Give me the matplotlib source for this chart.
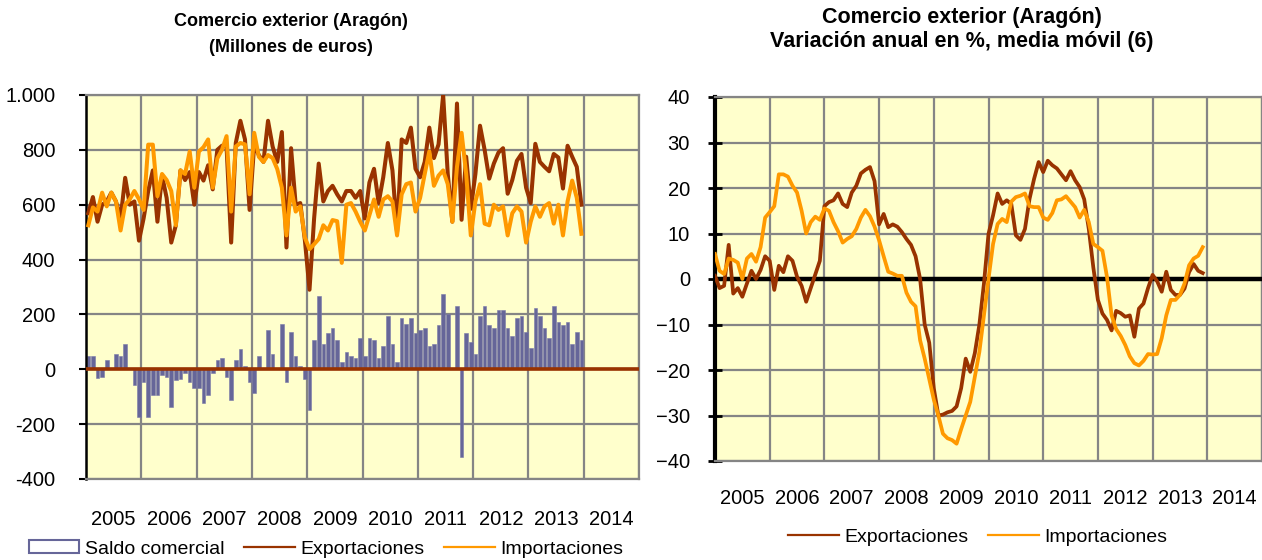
import matplotlib
matplotlib.use("Agg")
import matplotlib.pyplot as plt
from matplotlib.patches import Patch
from matplotlib.lines import Line2D
import numpy as np

plt.rcParams['font.family'] = ['Liberation Sans', 'DejaVu Sans']

years = [str(y) for y in range(2005, 2015)]

# Millones de euros, mensual ene 2005 - dic 2013
exportaciones = [569, 628, 538, 600, 612, 644, 612, 550, 698, 600, 612, 469,
                 550, 650, 725, 538, 706, 625, 462, 525, 725, 690, 719, 600,
                 719, 688, 744, 656, 800, 815, 812, 462, 825, 906, 838, 581,
                 819, 781, 756, 906, 812, 756, 865, 444, 806, 600, 606, 470,
                 290, 550, 750, 612, 650, 669, 638, 612, 650, 650, 625, 650,
                 550, 681, 731, 606, 700, 825, 725, 500, 838, 825, 881, 731,
                 700, 756, 881, 770, 820, 1000, 712, 538, 969, 545, 775, 585,
                 712, 888, 800, 695, 750, 790, 806, 640, 690, 760, 785, 662,
                 606, 822, 756, 738, 722, 785, 772, 659, 815, 775, 738, 600]

importaciones = [525, 590, 575, 644, 594, 644, 612, 506, 600, 620, 650, 620,
                 581, 819, 819, 631, 712, 690, 650, 525, 725, 712, 794, 662,
                 794, 810, 838, 662, 769, 800, 850, 575, 812, 825, 820, 638,
                 862, 775, 756, 781, 770, 730, 662, 488, 662, 575, 594, 480,
                 438, 456, 475, 525, 506, 544, 540, 388, 600, 606, 575, 538,
                 506, 562, 619, 556, 619, 631, 612, 488, 638, 675, 681, 575,
                 625, 712, 794, 669, 706, 725, 675, 538, 738, 862, 712, 488,
                 612, 675, 531, 525, 600, 581, 594, 488, 569, 594, 575, 462,
                 538, 594, 556, 594, 606, 531, 600, 488, 612, 688, 625, 494]

saldo = [48, 48, -33, -28, 34, 3, 57, 48, 93, 2, -57, -173,
         -48, -173, -93, -93, -21, -27, -137, -40, -34, -12, -48, -70,
         -70, -123, -93, -12, 34, 42, -27, -113, 34, 73, 12, -48,
         -85, 48, 5, 143, 57, 3, 166, -48, 137, 48, 12, -34,
         -149, 107, 267, 93, 131, 152, 107, 28, 64, 48, 40, 115,
         48, 115, 108, 42, 85, 195, 93, 28, 188, 166, 188, 131,
         143, 152, 85, 93, 160, 275, 202, 5, 231, -319, 131, 100,
         57, 195, 231, 160, 152, 217, 217, 152, 122, 188, 195, 137,
         79, 224, 195, 152, 115, 231, 173, 160, 173, 93, 137, 108]

# variacion anual en %, media movil (6)
var_export = [0.7, -2, -1.5, 7.5, -3.2, -2, -3.9, -1, 1.8, 0, 2, 5,
              4, -2.4, 2.9, 1.5, 5, 4, 0.5, -1.5, -5, -2, 1, 4,
              16, 16.9, 17.3, 18.8, 16.5, 15.8, 19, 20.5, 23.2, 24, 24.6, 21.5,
              12, 14.3, 11.4, 12, 11.5, 10.3, 8.8, 7.5, 5, 0, -10, -14,
              -24, -30, -29.8, -29.3, -29, -28, -24, -17.5, -20.4, -16.3, -10, -1,
              9.9, 14, 18.8, 16.5, 17.3, 16.5, 9.6, 8.6, 11, 17.6, 22, 25.7,
              23.5, 26, 25, 24.3, 23, 21.7, 23.7, 21.7, 20.2, 17.5, 11, 2.5,
              -4.6, -7.6, -9, -11.3, -7, -7.5, -8.3, -8, -12.7, -6.5, -5.4, -2,
              0.9, -0.5, -2.8, 1.6, -2.4, -3.5, -3.5, -2.1, 1.5, 3.3, 1.8, 1.3]

var_import = [5.5, 1.8, 1.1, 4.5, 4.2, 3.6, 0, 4.5, 5.5, 3.8, 7, 13.5,
              14.7, 16, 23, 23, 22.5, 20.5, 19, 15, 10, 12.5, 13.7, 13,
              15.5, 15, 12.5, 10.5, 8, 8.8, 9.4, 11, 13.5, 15.2, 13.8, 11.5,
              8.5, 5, 1.6, 1.2, 0.7, 0.7, -3, -5, -6, -13.5, -17.5, -22,
              -26.5, -30, -34, -35, -35.4, -36.2, -33, -30, -27, -21.5, -16, -8,
              0, 7.7, 12.1, 13.2, 12.5, 17, 18, 18.3, 18.8, 16, 15.8, 15.8,
              13.5, 13, 14.5, 17.3, 17.5, 18.2, 17, 15.8, 13.5, 15.2, 12.5, 7.7,
              7, 6.2, 0.4, -8, -11, -12.5, -14.5, -17, -18.5, -19, -18, -16.5,
              -16.6, -16.5, -13, -8, -4.6, -4.6, -3.5, -1, 3, 4.5, 5.1, 7]

brown = '#993300'
orange = '#FF9900'
bar_col = '#666699'
bg = '#FFFFCC'
grid_col = '#858585'

W, H = 1262, 560
fig = plt.figure(figsize=(W / 100, H / 100), dpi=100)


def style_axes(ax):
    ax.set_facecolor(bg)
    ax.set_xlim(0, 120)
    ax.set_xticks(np.arange(6, 120, 12))
    ax.set_xticklabels(years)
    ax.set_xticks(np.arange(0, 121, 12), minor=True)
    ax.tick_params(axis='x', which='both', length=0, labelsize=14.5)
    ax.grid(which='minor', axis='x', color=grid_col, lw=1.6, zorder=0)
    ax.grid(which='major', axis='y', color=grid_col, lw=1.6, zorder=0)
    ax.grid(which='major', axis='x', visible=False)
    ax.set_axisbelow(True)
    for s in ['top', 'right', 'bottom']:
        ax.spines[s].set_color(grid_col)
        ax.spines[s].set_linewidth(1.6)
    ax.spines['left'].set_color('black')


# ---- left chart
ax1 = fig.add_axes([86 / W, 1 - 479 / H, 553 / W, 384 / H])
style_axes(ax1)
xm = np.arange(len(saldo)) + 0.5
ax1.bar(xm, saldo, width=0.78, color=bar_col, edgecolor='#7a7aa8', linewidth=0.4, zorder=2)
ax1.axhline(0, color=brown, lw=2.6, zorder=3)
ax1.plot(xm, exportaciones, color=brown, lw=2.9, zorder=4)
ax1.plot(xm, importaciones, color=orange, lw=2.9, zorder=5)
ax1.set_ylim(-400, 1000)
yt = list(range(-400, 1001, 200))
ax1.set_yticks(yt)
ax1.set_yticklabels([('{:,}'.format(v)).replace(',', '.') for v in yt])
ax1.spines['left'].set_linewidth(1.8)
ax1.tick_params(axis='y', direction='out', length=5, width=1.5, labelsize=14.5, pad=17)
ax1.tick_params(axis='x', pad=22)

fig.text(291 / W, 1 - 22 / H, 'Comercio exterior (Aragón)', ha='center', va='center',
         fontsize=13, fontweight='bold')
fig.text(291 / W, 1 - 47 / H, '(Millones de euros)', ha='center', va='center',
         fontsize=13, fontweight='bold')

h1 = [Patch(facecolor='white', edgecolor=bar_col, linewidth=1.5),
      Line2D([], [], color=brown, lw=1.6),
      Line2D([], [], color=orange, lw=1.6)]
fig.legend(h1, ['Saldo comercial', 'Exportaciones', 'Importaciones'], loc='center',
           bbox_to_anchor=(326 / W, 11 / H), ncol=3, frameon=False, fontsize=14,
           handlelength=2.6, handleheight=0.6, columnspacing=1.0, handletextpad=0.3)

# ---- right chart
ax2 = fig.add_axes([715 / W, 1 - 461 / H, 547 / W, 364 / H])
style_axes(ax2)
xr = np.arange(len(var_export))
ax2.axhline(0, color='black', lw=3.2, zorder=3)
ax2.plot(xr, var_export, color=brown, lw=2.7, zorder=4)
ax2.plot(xr, var_import, color=orange, lw=2.7, zorder=5)
ax2.set_ylim(-40, 40)
ax2.set_yticks(range(-40, 41, 10))
ax2.spines['left'].set_linewidth(3)
ax2.tick_params(axis='y', direction='inout', length=10, width=2, labelsize=14.5, pad=13)
ax2.tick_params(axis='x', pad=20)

fig.text(962 / W, 1 - 18 / H, 'Comercio exterior (Aragón)', ha='center', va='center',
         fontsize=15.5, fontweight='bold')
fig.text(962 / W, 1 - 42 / H, 'Variación anual en %, media móvil (6)', ha='center', va='center',
         fontsize=15.5, fontweight='bold')

h2 = [Line2D([], [], color=brown, lw=1.6), Line2D([], [], color=orange, lw=1.6)]
fig.legend(h2, ['Exportaciones', 'Importaciones'], loc='center',
           bbox_to_anchor=(978 / W, 23 / H), ncol=2, frameon=False, fontsize=14,
           handlelength=2.6, columnspacing=1.0, handletextpad=0.3)

fig.savefig('out.png', dpi=100, facecolor='white')
